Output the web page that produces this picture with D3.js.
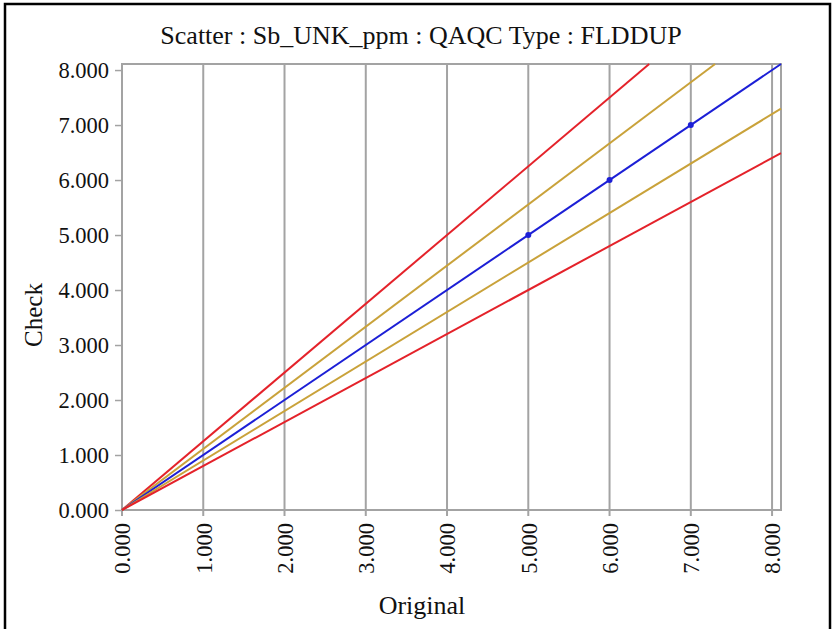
<!DOCTYPE html>
<html>
<head>
<meta charset="utf-8">
<script src="https://cdn.jsdelivr.net/npm/d3@7"></script>
<style>
  html, body { margin: 0; padding: 0; background: #fff; }
  svg { display: block; }
  text { font-family: "Liberation Serif", "DejaVu Serif", serif; fill: #111; }
</style>
</head>
<body>
<svg id="chart" width="834" height="629"></svg>
<script>
// ---- data ----
const titleText = "Scatter : Sb_UNK_ppm : QAQC Type : FLDDUP";
const xLabel = "Original";
const yLabel = "Check";
const xTicks = [0, 1, 2, 3, 4, 5, 6, 7, 8];
const yTicks = [0, 1, 2, 3, 4, 5, 6, 7, 8];
const axisMax = 8.11;
const pointsOriginal = [5, 6, 7];
const pointsCheck = [5, 6, 7];
const lineSlopes = [1.25, 1 / 0.9, 1, 0.9, 0.8];
const lineColors = ["#e4222a", "#c9a23a", "#1c1fd6", "#c9a23a", "#e4222a"];

// ---- layout ----
const svg = d3.select("#chart");
const m = { left: 122, right: 781, top: 64, bottom: 510 };
const x = d3.scaleLinear().domain([0, axisMax]).range([m.left, m.right]);
const y = d3.scaleLinear().domain([0, axisMax]).range([m.bottom, m.top]);
const fmt = d3.format(".3f");
const grid = "#a3a3a3";

// outer frame
svg.append("rect").attr("x", 5).attr("y", 4).attr("width", 825).attr("height", 640)
  .attr("fill", "none").attr("stroke", "#000").attr("stroke-width", 2.5);

// vertical gridlines
svg.append("g").selectAll("line").data(xTicks).join("line")
  .attr("x1", d => x(d)).attr("x2", d => x(d))
  .attr("y1", m.top).attr("y2", m.bottom + 6)
  .attr("stroke", grid).attr("stroke-width", 2);

// plot frame
svg.append("rect").attr("x", m.left).attr("y", m.top)
  .attr("width", m.right - m.left).attr("height", m.bottom - m.top)
  .attr("fill", "none").attr("stroke", grid).attr("stroke-width", 2);

// y axis
const yAxis = d3.axisLeft(y).tickValues(yTicks).tickFormat(fmt).tickSize(7).tickPadding(6);
const gy = svg.append("g").attr("transform", `translate(${m.left},0)`).call(yAxis);
gy.select(".domain").remove();
gy.selectAll(".tick line").attr("stroke", grid).attr("stroke-width", 1.5);
gy.selectAll(".tick text").attr("font-size", 22.5).attr("font-family", "Liberation Serif").attr("fill", "#111");

// x axis
const xAxis = d3.axisBottom(x).tickValues(xTicks).tickFormat(fmt).tickSize(6).tickPadding(0);
const gx = svg.append("g").attr("transform", `translate(0,${m.bottom})`).call(xAxis);
gx.select(".domain").remove();
gx.selectAll(".tick line").remove();
gx.selectAll(".tick text")
  .attr("font-size", 22.5).attr("font-family", "Liberation Serif").attr("fill", "#111")
  .attr("transform", "rotate(-90)")
  .attr("text-anchor", "end")
  .attr("x", -13).attr("y", 0).attr("dy", "0.35em");

// reference lines
svg.append("g").selectAll("line").data(lineSlopes).join("line")
  .attr("x1", x(0)).attr("y1", y(0))
  .attr("x2", d => x(Math.min(axisMax, axisMax / d)))
  .attr("y2", d => y(Math.min(axisMax, axisMax / d) * d))
  .attr("stroke", (d, i) => lineColors[i]).attr("stroke-width", 2);

// points
svg.append("g").selectAll("circle").data(pointsOriginal).join("circle")
  .attr("cx", d => x(d)).attr("cy", (d, i) => y(pointsCheck[i]))
  .attr("r", 3).attr("fill", "#1c1fd6");

// titles
svg.append("text").attr("x", 421).attr("y", 44).attr("text-anchor", "middle")
  .attr("font-size", 26).text(titleText);
svg.append("text").attr("x", 422).attr("y", 614).attr("text-anchor", "middle")
  .attr("font-size", 26).text(xLabel);
svg.append("text").attr("transform", "translate(42,315) rotate(-90)")
  .attr("text-anchor", "middle").attr("font-size", 25).text(yLabel);
</script>
</body>
</html>
